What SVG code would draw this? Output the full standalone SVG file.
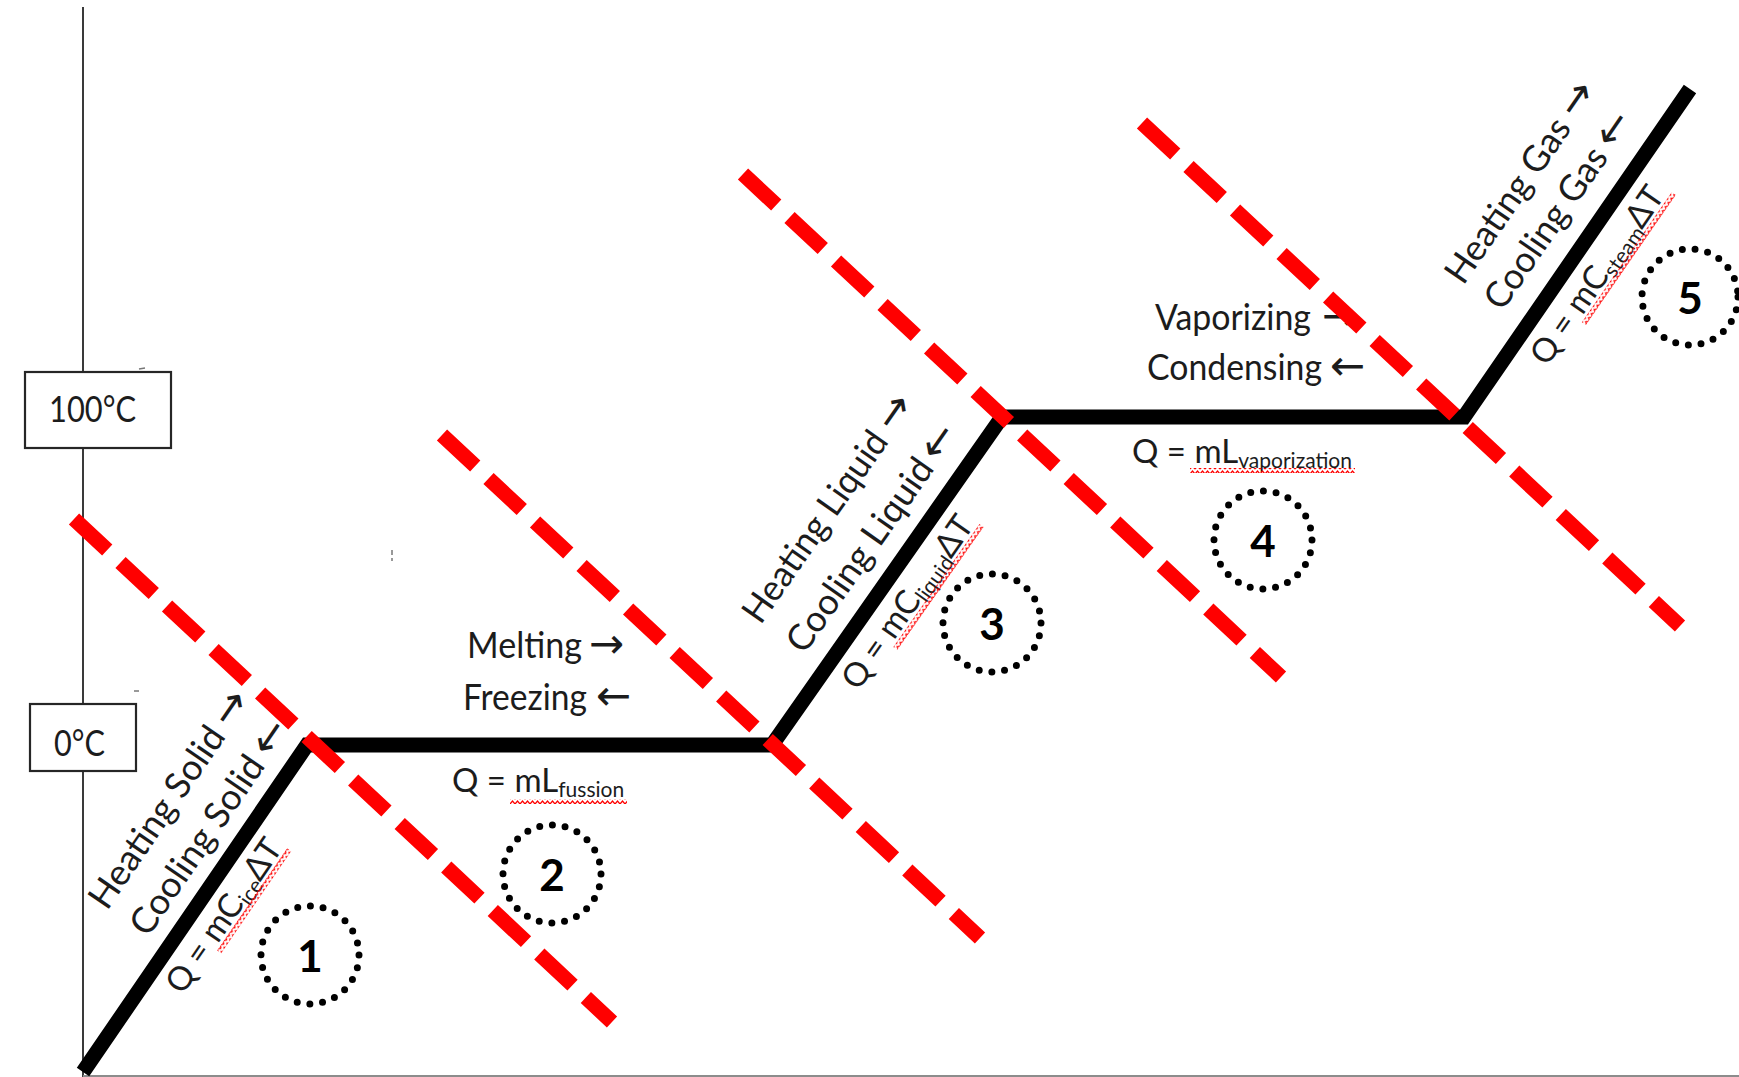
<svg xmlns="http://www.w3.org/2000/svg" width="1739" height="1077" viewBox="0 0 1739 1077">
<defs>
<style>
.axis{stroke:#3a3a3a;stroke-width:2;fill:none}
.xaxis{stroke:#8c8c8c;stroke-width:2;fill:none}
.box{fill:#fff;stroke:#262626;stroke-width:2.2}
.curve{fill:none;stroke:#000;stroke-width:15;stroke-linejoin:miter;stroke-miterlimit:10}
.red{fill:none;stroke:#ff0000;stroke-width:15;stroke-dasharray:45.5 18.2}
.dot{fill:none;stroke:#000;stroke-width:7;stroke-linecap:round;stroke-dasharray:0 12.83}
.lbl{font-family:Lato,"Open Sans",sans-serif;font-size:36px;fill:#1c1c1c}
.eq{font-family:Lato,"Open Sans",sans-serif;font-size:33px;fill:#1c1c1c}
.sub{font-size:21px}
.arr{font-family:"DejaVu Sans",sans-serif;font-size:42px;fill:#1c1c1c}
.num{font-family:Lato,"Open Sans",sans-serif;font-size:44px;font-weight:bold;fill:#000;text-anchor:middle}
.tick{stroke:#777;stroke-width:1.5}
</style>
<pattern id="wave" x="0" y="0" width="5" height="5" patternUnits="userSpaceOnUse">
<path d="M0,4 L2.5,1 L5,4" fill="none" stroke="#ff0000" stroke-width="1.2"/>
</pattern>
</defs>
<rect width="1739" height="1077" fill="#fff"/>

<g id="axes">
<line class="axis" x1="83" y1="7" x2="83" y2="1077"/>
<line class="xaxis" x1="83" y1="1076" x2="1739" y2="1076"/>
<line class="tick" x1="139" y1="369" x2="145" y2="368"/>
<line class="tick" x1="134" y1="691" x2="139" y2="691"/>
<line class="tick" x1="392" y1="550" x2="392" y2="555"/>
<line class="tick" x1="392" y1="558" x2="392" y2="561"/>
</g>

<g id="label-100C">
<rect class="box" x="25" y="372" width="146" height="76"/>
<text class="lbl" x="49" y="422" textLength="87" lengthAdjust="spacingAndGlyphs">100°C</text>
</g>
<g id="label-0C">
<rect class="box" x="30" y="704" width="106" height="67"/>
<text class="lbl" x="54" y="756" textLength="51" lengthAdjust="spacingAndGlyphs">0°C</text>
</g>

<g id="connectors">
<path id="heating-curve" class="curve" d="M83,1072 L307,745 L772,745 L1002,417 L1464,417 L1690,89"/>
</g>

<g id="stage1-text" transform="translate(83,1072) rotate(-55.6)">
<text class="lbl" x="146" y="-71" textLength="212" lengthAdjust="spacingAndGlyphs">Heating Solid</text>
<text class="arr" x="366" y="-71">→</text>
<text class="lbl" x="147" y="-22" textLength="209" lengthAdjust="spacingAndGlyphs">Cooling Solid</text>
<text class="arr" x="364" y="-22">←</text>
<text class="eq" x="119" y="39">Q = mC<tspan class="sub" dy="5">ice</tspan><tspan dy="-5">ΔT</tspan></text>
<rect x="176" y="42" width="124" height="5" fill="url(#wave)"/>
</g>

<g id="stage2-text">
<text class="lbl" x="467" y="658" textLength="115" lengthAdjust="spacingAndGlyphs">Melting</text>
<text class="arr" x="589" y="658">→</text>
<text class="lbl" x="463" y="710" textLength="124" lengthAdjust="spacingAndGlyphs">Freezing</text>
<text class="arr" x="596" y="710">←</text>
<text class="eq" x="452" y="792">Q = mL<tspan class="sub" dy="5">fussion</tspan></text>
<rect x="510" y="799" width="117" height="5" fill="url(#wave)"/>
</g>

<g id="stage3-text" transform="translate(772,745) rotate(-54.96)">
<text class="lbl" x="91" y="-78" textLength="225" lengthAdjust="spacingAndGlyphs">Heating Liquid</text>
<text class="arr" x="325" y="-78">→</text>
<text class="lbl" x="92" y="-25" textLength="228" lengthAdjust="spacingAndGlyphs">Cooling Liquid</text>
<text class="arr" x="326" y="-25">←</text>
<text class="eq" x="93" y="40">Q = mC<tspan class="sub" dy="5">liquid</tspan><tspan dy="-5">ΔT</tspan></text>
<rect x="150" y="43" width="150" height="5" fill="url(#wave)"/>
</g>

<g id="stage4-text">
<text class="lbl" x="1155" y="330" textLength="156" lengthAdjust="spacingAndGlyphs">Vaporizing</text>
<text class="arr" x="1322" y="330">→</text>
<text class="lbl" x="1147" y="380" textLength="175" lengthAdjust="spacingAndGlyphs">Condensing</text>
<text class="arr" x="1330" y="380">←</text>
<text class="eq" x="1132" y="463">Q = mL<tspan class="sub" dy="5">vaporization</tspan></text>
<rect x="1190" y="468" width="165" height="5" fill="url(#wave)"/>
</g>

<g id="stage5-text" transform="translate(1464,417) rotate(-55.35)">
<text class="lbl" x="107" y="-75" textLength="192" lengthAdjust="spacingAndGlyphs">Heating Gas</text>
<text class="arr" x="308" y="-75">→</text>
<text class="lbl" x="108" y="-28" textLength="188" lengthAdjust="spacingAndGlyphs">Cooling Gas</text>
<text class="arr" x="304" y="-28">←</text>
<text class="eq" x="88" y="40">Q = mC<tspan class="sub" dy="5">steam</tspan><tspan dy="-5">ΔT</tspan></text>
<rect x="145" y="43" width="158" height="5" fill="url(#wave)"/>
</g>

<g id="node-1"><circle class="dot" cx="310" cy="955" r="49"/><text class="num" x="310" y="972">1</text></g>
<g id="node-2"><circle class="dot" cx="552" cy="874" r="49"/><text class="num" x="552" y="891">2</text></g>
<g id="node-3"><circle class="dot" cx="992" cy="623" r="49"/><text class="num" x="992" y="640">3</text></g>
<g id="node-4"><circle class="dot" cx="1263" cy="540" r="49"/><text class="num" x="1263" y="557">4</text></g>
<g id="node-5"><circle class="dot" cx="1690" cy="297" r="48"/><text class="num" x="1690" y="314">5</text></g>

<g id="phase-boundaries">
<line class="red" x1="74" y1="519" x2="612" y2="1022"/>
<line class="red" x1="442" y1="435" x2="980" y2="938"/>
<line class="red" x1="743" y1="174" x2="1281" y2="677"/>
<line class="red" x1="1142" y1="123" x2="1680" y2="626"/>
</g>
</svg>
